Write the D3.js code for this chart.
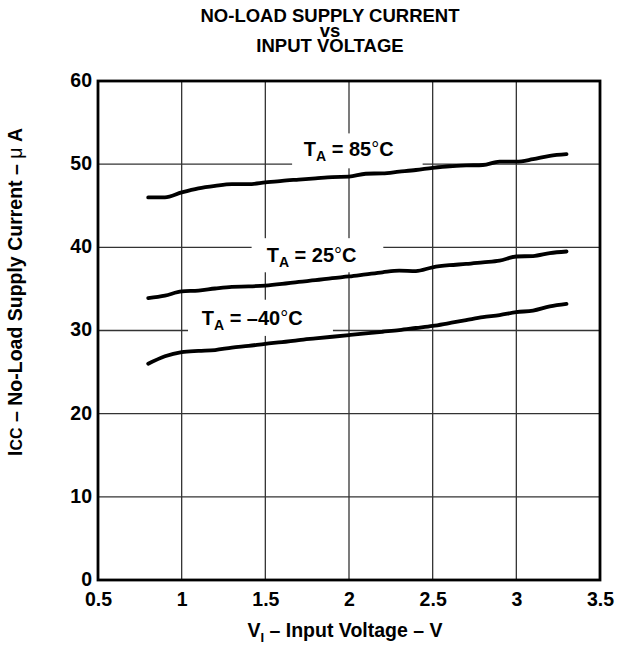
<!DOCTYPE html>
<html>
<head>
<meta charset="utf-8">
<script src="https://cdn.jsdelivr.net/npm/d3@7"></script>
<style>
  body { margin: 0; background: #fff; }
  svg { display: block; font-family: "Liberation Sans", Arial, sans-serif; font-weight: bold; }
</style>
</head>
<body>
<svg id="chart" width="619" height="646"></svg>
<script>
// ---- data ----
const voltages = [0.8, 0.9, 1.0, 1.1, 1.2, 1.3, 1.4, 1.5, 1.6, 1.7, 1.8, 1.9, 2.0,
                  2.1, 2.2, 2.3, 2.4, 2.5, 2.6, 2.7, 2.8, 2.9, 3.0, 3.1, 3.2, 3.3];
const icc85 = [46.0, 46.0, 46.6, 47.1, 47.4, 47.6, 47.6, 47.8, 48.0, 48.15, 48.3, 48.45, 48.5,
               48.85, 48.9, 49.1, 49.3, 49.55, 49.75, 49.85, 49.9, 50.3, 50.3, 50.6, 51.0, 51.2];
const icc25 = [33.9, 34.2, 34.7, 34.8, 35.05, 35.25, 35.3, 35.4, 35.6, 35.85, 36.05, 36.3, 36.5,
               36.75, 37.0, 37.2, 37.15, 37.6, 37.85, 38.0, 38.2, 38.4, 38.9, 38.95, 39.3, 39.5];
const iccM40 = [26.0, 26.9, 27.4, 27.55, 27.65, 27.95, 28.15, 28.4, 28.6, 28.85, 29.05, 29.25, 29.45,
                29.65, 29.85, 30.05, 30.3, 30.55, 30.9, 31.25, 31.6, 31.85, 32.2, 32.4, 32.9, 33.2];
const seriesNames = ["85", "25", "\u201340"];
const xTicks = [0.5, 1, 1.5, 2, 2.5, 3, 3.5];
const xTickLabels = ["0.5", "1", "1.5", "2", "2.5", "3", "3.5"];
const yTicks = [0, 10, 20, 30, 40, 50, 60];
const titleLines = ["NO-LOAD SUPPLY CURRENT", "vs", "INPUT VOLTAGE"];

// ---- layout ----
const svg = d3.select("#chart");
const mLeft = 98, mRight = 600, mTop = 81, mBottom = 580;
const x = d3.scaleLinear().domain([0.5, 3.5]).range([mLeft, mRight]);
const y = d3.scaleLinear().domain([0, 60]).range([mBottom, mTop]);
const FONT = "Liberation Sans, Arial, sans-serif";

// title
svg.append("g").selectAll("text").data(titleLines).join("text")
  .attr("x", 330).attr("y", (d, i) => [22, 37, 52][i])
  .attr("text-anchor", "middle").attr("font-size", 18.5).text(d => d);

// grid
const grid = svg.append("g");
grid.selectAll("line.v").data(xTicks.slice(1, -1)).join("line")
  .attr("x1", d => x(d)).attr("x2", d => x(d)).attr("y1", mTop).attr("y2", mBottom)
  .attr("stroke", "#333").attr("stroke-width", 1.3);
grid.selectAll("line.h").data(yTicks.slice(1, -1)).join("line")
  .attr("x1", mLeft).attr("x2", mRight).attr("y1", d => y(d)).attr("y2", d => y(d))
  .attr("stroke", "#333").attr("stroke-width", 1.3);

// axes (labels only, via d3 axes)
const xAxis = svg.append("g").attr("transform", `translate(0,${mBottom})`)
  .call(d3.axisBottom(x).tickValues(xTicks).tickSize(0).tickPadding(12)
        .tickFormat((d, i) => xTickLabels[i]));
xAxis.select(".domain").remove();
xAxis.selectAll("text").attr("font-size", 19.5).attr("font-family", FONT)
  .attr("font-weight", "bold").attr("fill", "#000");

const yAxis = svg.append("g").attr("transform", `translate(${mLeft},0)`)
  .call(d3.axisLeft(y).tickValues(yTicks).tickSize(0).tickPadding(6));
yAxis.select(".domain").remove();
yAxis.selectAll("text").attr("font-size", 19.5).attr("font-family", FONT)
  .attr("font-weight", "bold").attr("fill", "#000").attr("dy", "0.28em");

// label boxes (white, masking gridlines)
const labelBoxes = [
  { name: seriesNames[0], x0: 1.66, x1: 2.44, y0: 49.5, y1: 53.7, tx: 1.73, ty: 51.0 },
  { name: seriesNames[1], x0: 1.418, x1: 2.205, y0: 37.0, y1: 41.1, tx: 1.508, ty: 38.27 },
  { name: seriesNames[2], x0: 1.038, x1: 1.904, y0: 29.35, y1: 33.7, tx: 1.12, ty: 30.66 }
];
const lab = svg.append("g");
lab.selectAll("rect").data(labelBoxes).join("rect")
  .attr("x", d => x(d.x0)).attr("y", d => y(d.y1))
  .attr("width", d => x(d.x1) - x(d.x0)).attr("height", d => y(d.y0) - y(d.y1))
  .attr("fill", "#fff");
const lt = lab.selectAll("text").data(labelBoxes).join("text")
  .attr("x", d => x(d.tx)).attr("y", d => y(d.ty)).attr("font-size", 20);
lt.append("tspan").text("T");
lt.append("tspan").attr("font-size", 14).attr("dy", 5).text("A");
lt.append("tspan").attr("dy", -5).text(d => " = " + d.name);
lt.append("tspan").attr("font-weight", "normal").text("\u00b0");
lt.append("tspan").text("C");

// curves
const line = d3.line().x((d, i) => x(voltages[i])).y(d => y(d)).curve(d3.curveMonotoneX);
svg.append("g").selectAll("path").data([icc85, icc25, iccM40]).join("path")
  .attr("d", line).attr("fill", "none").attr("stroke", "#000")
  .attr("stroke-width", 3.8).attr("stroke-linecap", "round");

// frame
svg.append("rect").attr("x", mLeft).attr("y", mTop)
  .attr("width", mRight - mLeft).attr("height", mBottom - mTop)
  .attr("fill", "none").attr("stroke", "#000").attr("stroke-width", 2.8);

// axis titles
const xt = svg.append("text").attr("x", 345).attr("y", 637)
  .attr("text-anchor", "middle").attr("font-size", 19.5);
xt.append("tspan").text("V");
xt.append("tspan").attr("font-size", 13).attr("dy", 5).text("I");
xt.append("tspan").attr("dy", -5).text(" \u2013 Input Voltage \u2013 V");

const yt = svg.append("text").attr("transform", "translate(22,292) rotate(-90)")
  .attr("text-anchor", "middle").attr("font-size", 19.5);
yt.append("tspan").text("I");
yt.append("tspan").attr("font-size", 16).text("CC");
yt.append("tspan").text(" \u2013 No-Load Supply Current \u2013 ");
yt.append("tspan").attr("font-weight", "normal").text("\u03bc");
yt.append("tspan").text(" A");
</script>
</body>
</html>
